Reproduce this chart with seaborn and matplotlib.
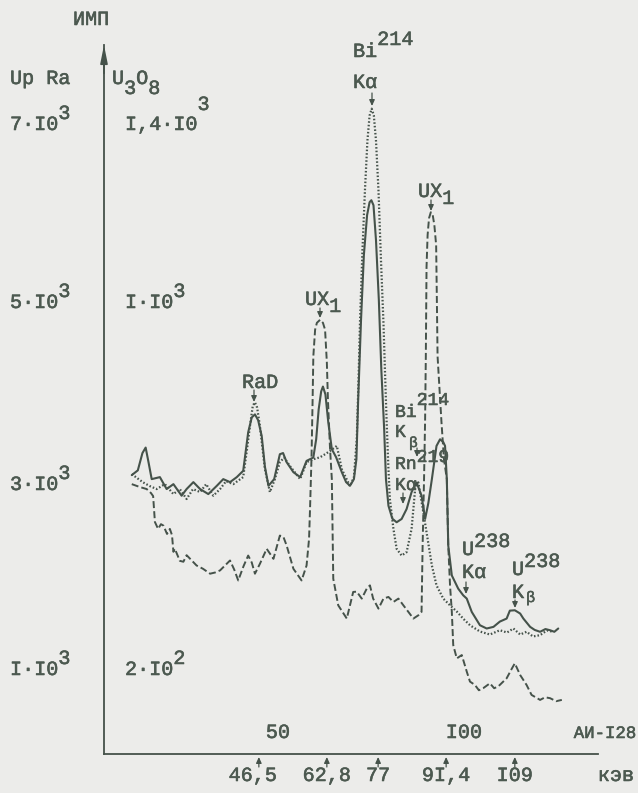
import numpy as np
import pandas as pd
import matplotlib
matplotlib.use("Agg")
import matplotlib.pyplot as plt
import matplotlib.transforms as mtransforms
import matplotlib.patheffects as pe
import seaborn as sns

# ---- spectra: analyzer channel (АИ-128) vs counts (Up Ra scale) ----
solid_ch = [7.8, 9.5, 10.8, 11.7, 12.5, 13.4, 15.7, 17.6, 19.5, 21.8, 23.2, 25.1, 27.0, 29.3,
            31.7, 33.5, 35.4, 37.3, 39.1, 40.5, 41.5, 42.4, 43.3, 44.3, 45.2, 46.2, 47.8, 49.4,
            50.3, 51.3, 53.2, 55.1, 56.9, 58.8, 59.6, 60.3, 61.0, 61.5, 62.2, 63.0, 64.0, 65.2,
            66.8, 68.0, 69.1, 70.2, 70.9, 71.4, 72.2, 73.0, 73.9, 74.6, 75.1, 75.7, 76.4, 77.2,
            77.9, 78.7, 79.2, 79.9, 81.0, 82.2, 83.6, 85.0, 86.4, 87.8, 89.2, 90.2, 91.1, 92.1,
            93.4, 94.4, 95.3, 95.8, 96.3, 96.7, 97.7, 99.5, 100.9, 101.9, 103.3, 105.6, 107.5,
            109.4, 111.2, 113.1, 114.0, 115.4, 116.9, 117.8, 119.7, 121.0, 122.5, 124.0, 125.3,
            126.5, 127.6]
solid_cnt = [3058, 3110, 3300, 3360, 3200, 3014, 3036, 2905, 2959, 2832, 2905, 2981, 2905, 2850,
             2941, 3014, 2981, 3036, 3105, 3527, 3690, 3724, 3660, 3487, 3150, 2941, 3014, 3287,
             3300, 3200, 3090, 3036, 3214, 3251, 3451, 3778, 3975, 4029, 3942, 3636, 3342, 3254,
             3090, 2981, 2941, 3014, 3232, 3887, 4761, 5471, 5908, 6050, 6072, 6017, 5635, 4980,
             4215, 3560, 3014, 2722, 2580, 2541, 2577, 2686, 2872, 2978, 2832, 2577, 2750, 3014,
             3378, 3451, 3420, 3378, 3014, 2286, 1958, 1813, 1740, 1704, 1558, 1412, 1376,
             1394, 1452, 1485, 1572, 1576, 1540, 1485, 1394, 1360, 1340, 1370, 1357,
             1340, 1376]

dotted_ch = [7.8, 9.5, 11.0, 12.9, 14.8, 17.1, 19.5, 21.3, 23.2, 25.0, 27.0, 28.7, 30.7, 32.6,
             34.3, 36.3, 39.1, 40.2, 41.0, 41.8, 42.4, 43.0, 43.8, 45.2, 46.6, 48.0, 49.4, 50.6,
             52.2, 55.1, 56.9, 58.8, 60.7, 62.1, 63.5, 65.4, 66.8, 69.1, 70.2, 71.0, 71.5, 71.9,
             72.6, 73.3, 74.0, 74.6, 75.2, 75.8, 76.4, 77.1, 77.8, 78.5, 79.0, 79.4, 79.9, 80.3,
             81.3, 82.2, 83.6, 85.0, 86.4, 87.4, 88.3, 89.7, 90.6, 92.1, 93.4, 95.3, 97.2, 99.1,
             101.0, 102.8, 105.6, 108.4, 111.2, 113.2, 115.0, 116.9, 118.7, 120.5, 122.5, 124.4,
             126.2]
dotted_cnt = [3069, 3020, 2978, 2937, 2905, 2959, 2850, 2905, 2796, 2905, 2872, 2959, 2832, 2905,
              2992, 2959, 3036, 3350, 3596, 3820, 3855, 3800, 3596, 3123, 2872, 3014, 3200, 3250,
              3159, 3014, 3200, 3232, 3254, 3287, 3323, 3378, 3123, 2937, 3036, 3451, 4106, 4728,
              5526, 6181, 6727, 7000, 7076, 7000, 6727, 6181, 5416, 4728, 4106, 3636, 3123, 2796,
              2468, 2250, 2176, 2213, 2468, 2905, 2978, 2650, 2432, 2067, 1849, 1704, 1630, 1562,
              1480, 1412, 1343, 1310, 1357, 1332, 1376, 1310, 1340, 1289, 1303, 1354,
              1340]

dashed_ch = [7.8, 10.1, 12.0, 13.2, 13.8, 14.3, 15.2, 16.0, 16.7, 17.7, 18.5, 19.1, 19.5, 19.9,
             21.3, 22.3, 23.2, 24.2, 26.0, 27.8, 29.8, 31.2, 32.6, 35.4, 36.6, 37.7, 39.2, 40.5,
             41.5, 42.4, 43.8, 45.7, 47.6, 49.4, 50.4, 51.3, 53.2, 55.5, 56.9, 57.6, 57.9, 58.3,
             58.6, 58.8, 59.3, 59.8, 60.7, 61.5, 62.1, 62.6, 62.9, 63.5, 64.0, 64.4, 65.8, 68.2,
             70.0, 71.0, 72.4, 73.8, 74.7, 75.6, 77.1, 78.5, 79.9, 81.3, 82.7, 84.1, 85.5, 86.9,
             88.3, 89.2, 89.5, 89.9, 90.2, 90.4, 90.6, 90.9, 91.3, 91.8, 92.3, 92.8, 93.3, 93.5,
             93.7, 94.8, 95.5, 96.3, 96.7, 97.2, 97.7, 98.1, 99.1, 100.5, 101.9, 102.8, 104.2,
             105.3, 106.5, 108.4, 109.6, 110.8, 113.1, 114.6, 115.4, 116.3, 116.9, 118.7, 120.1,
             122.5, 123.9, 125.3, 127.0, 128.6]
dashed_cnt = [2959, 2927, 2905, 2861, 2828, 2544, 2468, 2520, 2504, 2413, 2468, 2400, 2217, 2250,
              2118, 2108, 2180, 2140, 2067, 2031, 1977, 1990, 2013, 2122, 2020, 1903, 2060, 2176,
              2100, 1977, 2086, 2250, 2140, 2395, 2380, 2286, 2031, 1903, 2067, 2359, 2722, 3268,
              3887, 4360, 4652, 4728, 4761, 4728, 4652, 4292, 3887, 3342, 3014, 1922, 1630, 1485,
              1777, 1780, 1704, 1813, 1849, 1704, 1594, 1704, 1722, 1667, 1704, 1630, 1558, 1485,
              1521, 1558, 2286, 3014, 3669, 4360, 5340, 5690, 5875, 5940, 5918, 5798, 5580, 4980,
              4360, 3636, 3232, 3014, 2286, 1849, 1562, 1194, 1048, 1085, 903, 794, 757,
              699, 721, 775, 721, 743, 830, 939, 994, 917, 866, 757, 648,
              593, 622, 612, 579, 593]

y_ticks = [1000, 2000, 3000, 4000, 5000, 6000, 7000]
x_ticks = [10, 20, 30, 40, 50, 60, 70, 80, 90, 100, 110, 120]
energy_ch = [43.5, 62.6, 77.0, 96.1, 115.4]
energy_lbl = ["46,5", "62,8", "77", "9I,4", "I09"]

# ---- style ----
W, H, DPI = 638, 793, 100
paper = "#ececea"
ink = "#45524a"
txt = "#4c5950"

sns.set_theme(style="white")
plt.rcParams["font.family"] = ["Liberation Mono", "DejaVu Sans Mono"]
plt.rcParams["axes.facecolor"] = paper
plt.rcParams["figure.facecolor"] = paper

fig = plt.figure(figsize=(W / DPI, H / DPI), dpi=DPI)
ax = fig.add_axes([104 / W, 39 / H, 494 / W, 709 / H])
ax.set_facecolor(paper)

sns.lineplot(x=solid_ch, y=solid_cnt, ax=ax, color=ink, lw=1.5,
             estimator=None, sort=False)
sns.lineplot(x=dotted_ch, y=dotted_cnt, ax=ax, color=ink, lw=1.6,
             linestyle=(0, (0.7, 0.9)), estimator=None, sort=False)
sns.lineplot(x=dashed_ch, y=dashed_cnt, ax=ax, color=ink, lw=1.4,
             linestyle=(0, (3.6, 1.6)), estimator=None, sort=False)

ax.set_xlim(0, 494 / 3.56)
ax.set_ylim(0, 709 / 0.0912)
ax.set_xlabel("")
ax.set_ylabel("")
for s in ("top", "right"):
    ax.spines[s].set_visible(False)
for s in ("left", "bottom"):
    ax.spines[s].set_color(ink)
    ax.spines[s].set_linewidth(1.3)
ax.set_yticks(y_ticks)
ax.set_xticks(x_ticks)
ax.tick_params(axis="y", direction="inout", length=11, width=1.2, color=ink, labelleft=False)
ax.tick_params(axis="x", direction="in", length=5, width=1.1, color=ink, labelbottom=False)

# arrowhead on the count axis
ax.annotate("", xy=(0, 1.0), xytext=(0, 0.96), xycoords="axes fraction",
            arrowprops=dict(arrowstyle="-|>,head_width=0.18,head_length=0.9",
                            color=ink, lw=1.2, shrinkA=0, shrinkB=0))

# pixel-space transform (origin at top-left)
pix = mtransforms.Affine2D().scale(1, -1).translate(0, H)
FS = 14.5
ink_fx = [pe.withStroke(linewidth=0.4, foreground=txt)]


def put(x, y, s, size=FS, ha="left"):
    fig.text(x, y, s, transform=pix, fontsize=size, color=txt, ha=ha,
             va="baseline", path_effects=ink_fx)


def typed(x, y, parts, size=FS):
    """Typewriter-style label: parts are (text, vertical shift in px)."""
    cw = 0.6 * size * DPI / 72.0
    for s, dy in parts:
        put(x, y - dy, s, size=size)
        x += len(s) * cw


def pointer(x, y0, y1, up=False):
    a, b = ((x, y1), (x, y0)) if not up else ((x, y0), (x, y1))
    fig.add_artist(matplotlib.patches.FancyArrowPatch(
        b, a, transform=pix, arrowstyle="-|>,head_width=1.6,head_length=3.5",
        color=ink, lw=0.9, shrinkA=0, shrinkB=0))


# axis headings
typed(73, 25, [("ИМП", 0)])
typed(10, 84, [("Up Ra", 0)])
typed(112, 84, [("U", 0), ("3", -10), ("O", 0), ("8", -10)])

# count scale labels (Up Ra on the left, U3O8 on the right)
typed(10, 130, [("7·I0", 0), ("3", 11)])
typed(125, 130, [("I,4·I0", 0), ("3", 20)])
typed(10, 308, [("5·I0", 0), ("3", 11)])
typed(125, 308, [("I·I0", 0), ("3", 11)])
typed(10, 490, [("3·I0", 0), ("3", 11)])
typed(10, 675, [("I·I0", 0), ("3", 11)])
typed(125, 675, [("2·I0", 0), ("2", 11)])

# peak identifications
typed(353, 57, [("Bi", 0), ("214", 12)])
typed(353, 88, [("Kα", 0)])
pointer(372, 93, 106)

typed(418, 197, [("UX", 0), ("1", -7)])
pointer(431, 200, 211)

typed(305, 305, [("UX", 0), ("1", -7)])
pointer(320, 308, 318)

typed(242, 388, [("RaD", 0)])
pointer(254, 390, 402)

SC = 13.0
typed(395, 417, [("Bi", 0), ("214", 12)], size=SC)
typed(395, 437, [("K", 0)], size=SC)
typed(409, 447, [("β", 0)], size=10.5)
pointer(417, 448, 457)
typed(395, 469, [("Rn", 0), ("219", 7)], size=SC)
typed(395, 490, [("Kα", 0)], size=SC)
pointer(403, 493, 504)

typed(462, 555, [("U", 0), ("238", 8)])
typed(462, 578, [("Kα", 0)])
pointer(466, 582, 594)

typed(512, 575, [("U", 0), ("238", 8)])
typed(512, 598, [("K", 0)])
typed(526, 602, [("β", 0)], size=11)
pointer(515, 600, 608)

# channel scale labels
put(278, 738, "50", ha="center")
put(464, 738, "I00", ha="center")
put(636, 738, "АИ-I28", size=12.5, ha="right")

# energy markers below the channel axis
for ch, lbl in zip(energy_ch, energy_lbl):
    xd = ax.transData.transform((ch, 0))[0]
    pointer(xd, 757, 767, up=True)
    put(xd - (6 if lbl == "46,5" else 0), 781, lbl, ha="center")
put(616, 781, "кэв", ha="center")

fig.savefig("out.png", dpi=DPI, facecolor=paper)
